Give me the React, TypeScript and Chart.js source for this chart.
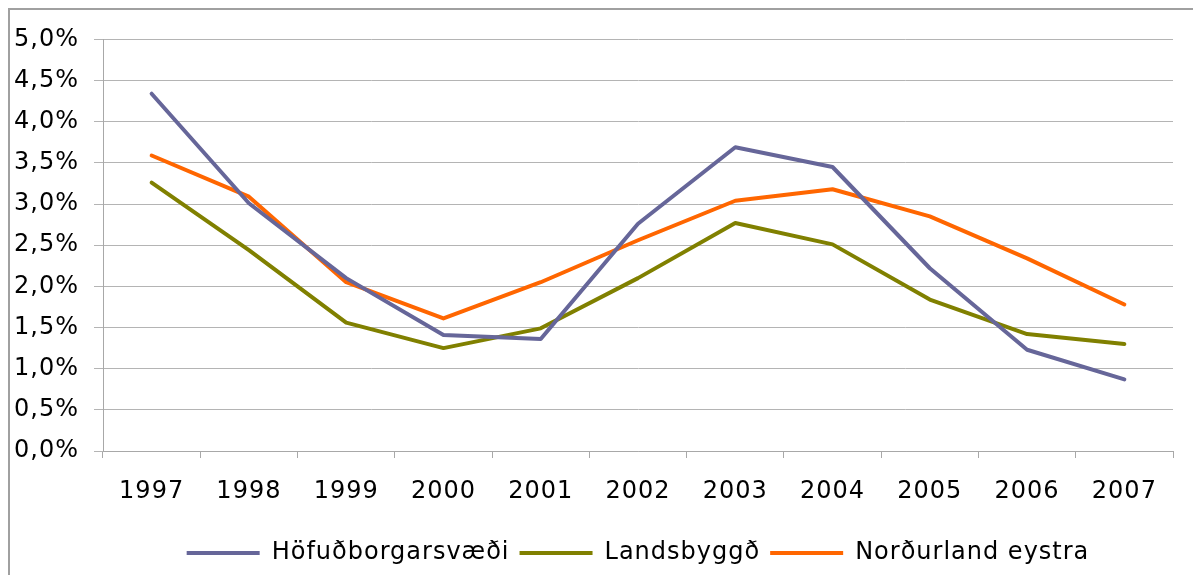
import React, { useEffect, useRef } from "react";
import { Chart, registerables } from "chart.js";

Chart.register(...registerables);

const years = ["1997", "1998", "1999", "2000", "2001", "2002", "2003", "2004", "2005", "2006", "2007"];
const hofudborgarsvaedi = [4.34, 3.01, 2.1, 1.41, 1.36, 2.76, 3.69, 3.45, 2.22, 1.23, 0.87];
const landsbyggd = [3.26, 2.44, 1.56, 1.25, 1.49, 2.1, 2.77, 2.51, 1.84, 1.42, 1.3];
const nordurlandEystra = [3.59, 3.09, 2.05, 1.61, 2.05, 2.56, 3.04, 3.18, 2.85, 2.34, 1.78];
const seriesNames = ["Höfuðborgarsvæði", "Landsbyggð", "Norðurland eystra"];
const yMin = 0;
const yMax = 5;
const yStep = 0.5;

const spacingPlugin = {
  id: "letterSpacing",
  beforeUpdate(chart: any) {
    chart.ctx.letterSpacing = "1px";
  },
  beforeDraw(chart: any) {
    chart.ctx.letterSpacing = "1px";
  },
};

export default function App() {
  const ref = useRef<HTMLCanvasElement | null>(null);
  useEffect(() => {
    if (!ref.current) return;
    const font = { family: "'DejaVu Sans', sans-serif", size: 24 };
    const mk = (label: string, data: number[], color: string) => ({
      label,
      data,
      borderColor: color,
      backgroundColor: color,
      borderWidth: 4,
      pointRadius: 0,
      pointHoverRadius: 0,
      tension: 0,
      borderCapStyle: "round" as const,
      borderJoinStyle: "round" as const,
      pointStyle: "line" as const,
    });
    const chart = new Chart(ref.current, {
      type: "line",
      data: {
        labels: years,
        datasets: [
          mk(seriesNames[0], hofudborgarsvaedi, "#666699"),
          mk(seriesNames[1], landsbyggd, "#808000"),
          mk(seriesNames[2], nordurlandEystra, "#ff6600"),
        ],
      },
      plugins: [spacingPlugin],
      options: {
        responsive: false,
        animation: false,
        layout: { padding: { top: 29, right: 20, left: 0, bottom: 0 } },
        plugins: {
          tooltip: { enabled: false },
          legend: {
            position: "bottom",
            fullSize: false,
            labels: {
              usePointStyle: true,
              pointStyleWidth: 73,
              boxHeight: 4,
              color: "#000",
              font,
              padding: 10,
            },
          },
        },
        scales: {
          x: {
            offset: true,
            grid: {
              display: true,
              offset: true,
              drawOnChartArea: false,
              drawTicks: true,
              tickLength: 7,
              color: "#a8a8a8",
            },
            border: { display: true, color: "#a8a8a8", width: 1 },
            ticks: { color: "#000", font, padding: 19, maxRotation: 0 },
            afterFit(scale: any) {
              scale.height = 80;
            },
          },
          y: {
            min: yMin,
            max: yMax,
            grid: { color: "#b4b4b4", lineWidth: 1, tickLength: 9, drawTicks: true },
            border: { display: true, color: "#a8a8a8", width: 1 },
            ticks: {
              stepSize: yStep,
              color: "#000",
              font,
              padding: 15,
              callback: (v: any) => Number(v).toFixed(1).replace(".", ",") + "%",
            },
            afterFit(scale: any) {
              scale.width = 93;
            },
          },
        },
      },
    });
    return () => chart.destroy();
  }, []);
  return (
    <div
      style={{
        position: "absolute",
        left: 8,
        top: 8,
        width: 1185,
        height: 567,
        borderTop: "2px solid #a0a0a0",
        borderLeft: "2px solid #a0a0a0",
        boxSizing: "border-box",
        background: "#fff",
      }}
    >
      <canvas ref={ref} width={1183} height={565} style={{ display: "block", width: 1183, height: 565 }} />
    </div>
  );
}
